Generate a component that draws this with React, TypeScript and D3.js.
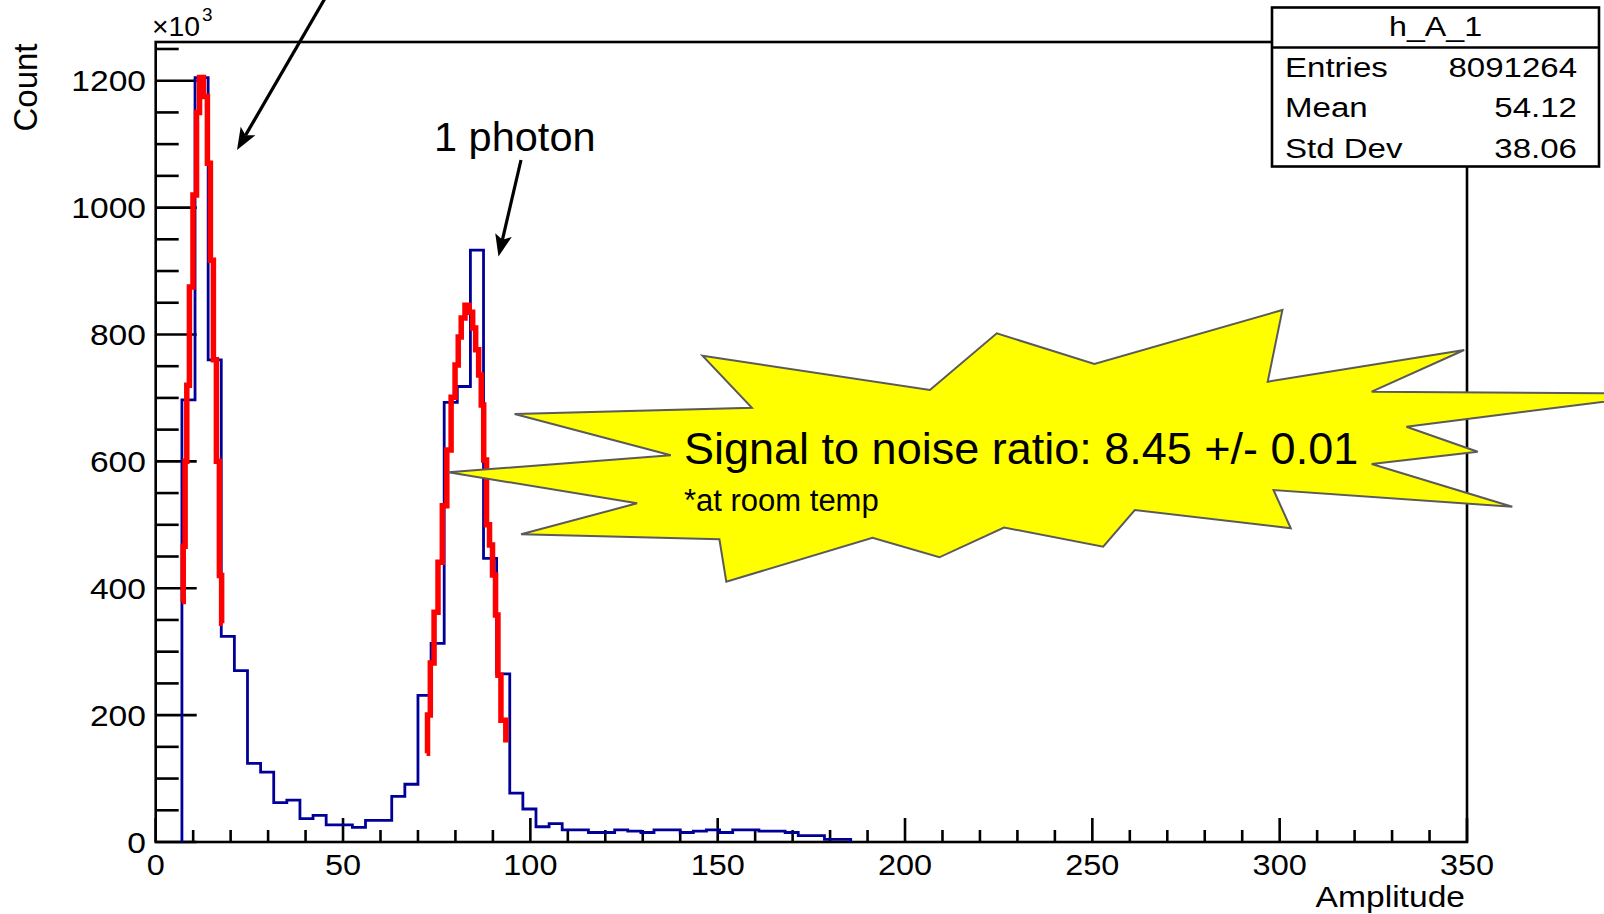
import React from "react";
import * as d3 from "d3";

// ---------- data ----------
const binWidth = 3.5; // Amplitude units per bin (100 bins over 0..350)
// bin contents in units of 10^3 (bins beyond the list are empty)
const counts = [
  0, 0, 697, 1205, 760, 324, 270, 124, 110, 62,
  66, 37, 42, 27, 27, 23, 34, 34, 72, 91,
  231, 313, 693, 718, 933, 447, 265, 77, 52, 24,
  29, 19, 19, 15, 15, 19, 17, 15, 19, 19,
  15, 17, 19, 15, 19, 19, 17, 17, 15, 10,
  10, 4, 4,
];
const fitLeftX = [7.0, 7.7, 8.0, 8.6, 9.4, 10.5, 11.3, 12.1, 13.4, 14.2, 15.0, 15.8, 16.6, 17.4, 17.8];
const fitLeftY = [379, 466, 600, 720, 875, 1020, 1150, 1205, 1175, 1070, 917, 760, 600, 420, 345];
const fitRightX = [72.3, 72.8, 73.8, 74.8, 75.9, 77.1, 78.3, 79.4, 80.4, 81.1, 82.0, 83.1, 84.2, 85.0, 85.8, 86.6, 87.2, 87.9, 88.7, 89.5, 90.3, 91.1, 91.6, 92.7, 94.2];
const fitRightY = [140, 200, 282, 362, 441, 530, 618, 701, 752, 796, 826, 846, 835, 810, 776, 736, 689, 602, 500, 468, 421, 358, 263, 192, 161];

const xTickValues = [0, 50, 100, 150, 200, 250, 300, 350];
const yTickValues = [0, 200, 400, 600, 800, 1000, 1200];
const xDomain = [0, 350];
const yDomain = [0, 1261];

const statsTitle = "h_A_1";
const statsLabels = ["Entries", "Mean", "Std Dev"];
const statsValues = ["8091264", "54.12", "38.06"];

const xTitle = "Amplitude";
const yTitle = "Count";
const peakLabel = "1 photon";
const calloutMain = "Signal to noise ratio: 8.45 +/- 0.01";
const calloutSub = "*at room temp";

// ---------- layout ----------
const W = 1604;
const H = 914;
const FONT = "'Liberation Sans', Arial, Helvetica, sans-serif";
const plot = { left: 155.7, right: 1467, top: 42, bottom: 842 };
const statsBox = { x: 1272, y: 7.5, w: 327, h: 159, header: 47.5 };

// callout star outline (annotation shape, pixel coordinates)
const starShape: [number, number][] = [
  [702.5, 355.7], [929.9, 390], [996.8, 333.3], [1094.4, 364], [1282.4, 310],
  [1267.7, 381.7], [1464.2, 350], [1371.7, 391.7], [1667, 393.7], [1406.4, 426.7],
  [1477.7, 451.7], [1371.7, 464], [1512.3, 506.7], [1273.5, 490], [1290.8, 528.3],
  [1134.8, 510], [1103.2, 546.7], [1004, 527.5], [939.4, 557.3], [872.5, 537.7],
  [726.3, 581.7], [719.4, 539.3], [521.1, 534.3], [637.1, 503.3], [448.4, 472.3],
  [670.8, 455.3], [514.6, 414], [751.9, 407.7],
];

function SText(props: any) {
  const { x, y, sx = 1, anchor = "start", size, children, ...rest } = props;
  return (
    <text
      transform={`translate(${x},${y}) scale(${sx},1)`}
      textAnchor={anchor}
      fontSize={size}
      fontFamily={FONT}
      fill="#000"
      {...rest}
    >
      {children}
    </text>
  );
}

function Arrow({ x1, y1, x2, y2 }: { x1: number; y1: number; x2: number; y2: number }) {
  const dx = x2 - x1, dy = y2 - y1;
  const len = Math.hypot(dx, dy);
  const ux = dx / len, uy = dy / len;
  const px = -uy, py = ux;
  const hl = 22, hw = 8.5;
  const bx = x2 - ux * hl, by = y2 - uy * hl;
  const nx = x2 - ux * hl * 0.78, ny = y2 - uy * hl * 0.78;
  const head = [
    [x2, y2],
    [bx + px * hw, by + py * hw],
    [nx, ny],
    [bx - px * hw, by - py * hw],
  ]
    .map((p) => p.join(","))
    .join(" ");
  return (
    <g>
      <line x1={x1} y1={y1} x2={nx} y2={ny} stroke="#000" strokeWidth={3.2} />
      <polygon points={head} fill="#000" />
    </g>
  );
}

export default function App() {
  const x = d3.scaleLinear().domain(xDomain).range([plot.left, plot.right]);
  const y = d3.scaleLinear().domain(yDomain).range([plot.bottom, plot.top]);

  // histogram step path
  const first = counts.findIndex((c) => c > 0);
  const pts: [number, number][] = [];
  pts.push([first * binWidth, 0]);
  for (let i = first; i < counts.length; i++) {
    pts.push([i * binWidth, counts[i]]);
    pts.push([(i + 1) * binWidth, counts[i]]);
  }
  pts.push([counts.length * binWidth, 0]);
  const histLine = d3
    .line<[number, number]>()
    .x((d) => x(d[0]))
    .y((d) => y(d[1]));
  const histPath = histLine(pts) || "";

  const fitLine = d3
    .line<[number, number]>()
    .x((d) => x(d[0]))
    .y((d) => y(d[1]))
    .curve(d3.curveStep);
  const fitL = fitLine(fitLeftX.map((v, i) => [v, fitLeftY[i]] as [number, number])) || "";
  const fitR = fitLine(fitRightX.map((v, i) => [v, fitRightY[i]] as [number, number])) || "";

  const yMinor = d3.range(0, yDomain[1] + 1, 50);
  const xMinor = d3.range(0, xDomain[1] + 1, 10);

  const statsY = [77, 117, 157.5];

  return (
    <svg
      width={W}
      height={H}
      style={{ position: "absolute", left: 0, top: 0, background: "#fff" }}
    >
      <rect x={0} y={0} width={W} height={H} fill="#fff" />

      {/* frame */}
      <rect
        x={plot.left}
        y={plot.top}
        width={plot.right - plot.left}
        height={plot.bottom - plot.top}
        fill="none"
        stroke="#000"
        strokeWidth={2.6}
      />

      {/* y ticks */}
      {yMinor.map((v) => {
        const major = v % 200 === 0;
        return (
          <line
            key={"ym" + v}
            x1={plot.left}
            x2={plot.left + (major ? 41 : 23)}
            y1={y(v)}
            y2={y(v)}
            stroke="#000"
            strokeWidth={2.6}
          />
        );
      })}
      {/* x ticks */}
      {xMinor.map((v) => {
        const major = v % 50 === 0;
        return (
          <line
            key={"xm" + v}
            x1={x(v)}
            x2={x(v)}
            y1={plot.bottom}
            y2={plot.bottom - (major ? 24 : 12)}
            stroke="#000"
            strokeWidth={2.6}
          />
        );
      })}

      {/* histogram */}
      <path d={histPath} fill="none" stroke="#000099" strokeWidth={2.8} strokeLinejoin="miter" />
      {/* fits */}
      <path d={fitL} fill="none" stroke="#ff0000" strokeWidth={5.5} />
      <path d={fitR} fill="none" stroke="#ff0000" strokeWidth={5.5} />

      {/* y tick labels */}
      {yTickValues.map((v) => (
        <SText key={"yl" + v} x={146} y={y(v) + 10.8} sx={1.12} anchor="end" size={30}>
          {v}
        </SText>
      ))}
      {/* x tick labels */}
      {xTickValues.map((v) => (
        <SText key={"xl" + v} x={x(v)} y={875} sx={1.1} anchor="middle" size={29.5}>
          {v}
        </SText>
      ))}

      {/* exponent */}
      <SText x={152} y={36} sx={1.05} size={27}>
        {"\u00d710"}
      </SText>
      <SText x={202} y={21} sx={1.05} size={18}>
        3
      </SText>

      {/* axis titles */}
      <text
        transform={`translate(37,87.5) rotate(-90)`}
        textAnchor="middle"
        fontSize={33}
        fontFamily={FONT}
      >
        {yTitle}
      </text>
      <SText x={1465} y={907} sx={1.12} anchor="end" size={30}>
        {xTitle}
      </SText>

      {/* stats box */}
      <rect
        x={statsBox.x}
        y={statsBox.y}
        width={statsBox.w}
        height={statsBox.h}
        fill="#fff"
        stroke="#000"
        strokeWidth={2.6}
      />
      <line
        x1={statsBox.x}
        x2={statsBox.x + statsBox.w}
        y1={statsBox.header}
        y2={statsBox.header}
        stroke="#000"
        strokeWidth={2.6}
      />
      <SText x={statsBox.x + statsBox.w / 2} y={36} sx={1.15} anchor="middle" size={28}>
        {statsTitle}
      </SText>
      {statsLabels.map((l, i) => (
        <SText key={"sl" + i} x={1285} y={statsY[i]} sx={1.18} size={28}>
          {l}
        </SText>
      ))}
      {statsValues.map((l, i) => (
        <SText key={"sv" + i} x={1577} y={statsY[i]} sx={1.18} anchor="end" size={28}>
          {l}
        </SText>
      ))}

      {/* callout star */}
      <polygon
        points={starShape.map((p) => p.join(",")).join(" ")}
        fill="#ffff00"
        stroke="#5a5a5a"
        strokeWidth={2}
        strokeLinejoin="miter"
      />
      <SText x={684} y={464} size={45}>
        {calloutMain}
      </SText>
      <SText x={684} y={511} size={31}>
        {calloutSub}
      </SText>

      {/* annotations */}
      <SText x={434} y={151} size={41.5}>
        {peakLabel}
      </SText>
      <Arrow x1={331} y1={-12} x2={237} y2={150} />
      <Arrow x1={521} y1={160} x2={498.5} y2={256.5} />
    </svg>
  );
}
